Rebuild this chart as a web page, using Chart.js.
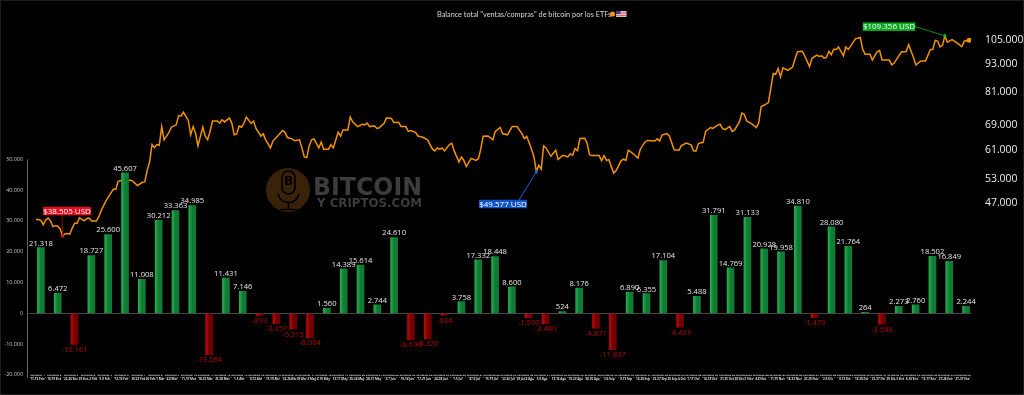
<!DOCTYPE html>
<html>
<head>
<meta charset="utf-8">
<style>
  html, body { margin: 0; padding: 0; background: #000; }
  canvas { display: block; }
</style>
<script src="https://cdn.jsdelivr.net/npm/chart.js@4"></script>
</head>
<body>
<canvas id="chart" width="1024" height="395"></canvas>
<script>
const titleText = 'Balance total "ventas/compras" de bitcoin por los ETFs';

const flows = [
  21318, 6472, -10161, 18727, 25600, 45607, 11008, 30212, 33363, 34985,
  -13564, 11431, 7146, -893, -3357, -5215, -8004, 1560, 14389, 15614,
  2744, 24610, -8690, -8320, -634, 3758, 17332, 18448, 8600, -1500,
  -3400, 524, 8176, -4871, -11837, 6890, 6355, 17104, -4493, 5488,
  31791, 14769, 31133, 20928, 19958, 34810, -1479, 28080, 21764, 264,
  -3588, 2273, 2760, 18502, 16849, 2244
];

const weekDates = [
  '11-12 Ene', '16-19 Ene', '22-26 Ene', '29 Ene-2 Feb', '5-9 Feb', '12-16 Feb', '20-23 Feb', '26 Feb-1 Mar',
  '4-8 Mar', '11-15 Mar', '18-22 Mar', '25-28 Mar', '1-5 Abr', '8-12 Abr', '15-19 Abr', '22-26 Abr',
  '29 Abr-3 May', '6-10 May', '13-17 May', '20-24 May', '28-31 May', '3-7 Jun', '10-14 Jun', '17-21 Jun',
  '24-28 Jun', '1-5 Jul', '8-12 Jul', '15-19 Jul', '22-26 Jul', '29 Jul-2 Ago', '5-9 Ago', '12-16 Ago',
  '19-23 Ago', '26-30 Ago', '3-6 Sep', '9-13 Sep', '16-20 Sep', '23-27 Sep', '30 Sep-4 Oct', '7-11 Oct',
  '14-18 Oct', '21-25 Oct', '28 Oct-1 Nov', '4-8 Nov', '11-15 Nov', '18-22 Nov', '25-29 Nov', '2-6 Dic',
  '9-13 Dic', '16-20 Dic', '23-27 Dic', '30 Dic-3 Ene', '6-10 Ene', '13-17 Ene', '21-24 Ene', '27-31 Ene'
];

// days since the first ETF session, paired with priceValues
const priceDays = [
  0, 1, 2, 3, 4, 5, 6, 7, 8, 9,
  10, 11, 12, 13, 14, 15, 16, 17, 18, 19,
  20, 21, 22, 23, 25, 26, 27, 29, 30, 32,
  33, 34, 35, 38, 39, 40, 42, 44, 45, 46,
  47, 48, 49, 50, 51, 52, 53, 55, 56, 58,
  59, 60, 61, 63, 64, 65, 66, 67, 69, 70,
  71, 72, 73, 75, 76, 77, 78, 80, 81, 82,
  83, 84, 85, 86, 87, 89, 90, 91, 93, 94,
  95, 97, 98, 99, 100, 102, 103, 104, 106, 107,
  109, 110, 111, 112, 113, 114, 115, 116, 117, 118,
  119, 121, 122, 123, 125, 126, 127, 129, 130, 131,
  133, 135, 136, 137, 138, 140, 141, 142, 144, 145,
  147, 148, 150, 151, 153, 154, 155, 157, 158, 160,
  162, 164, 165, 166, 167, 168, 169, 171, 172, 173,
  175, 176, 177, 178, 180, 182, 183, 184, 185, 187,
  189, 190, 192, 193, 195, 197, 199, 201, 202, 203,
  205, 206, 207, 208, 209, 210, 211, 213, 215, 216,
  218, 220, 221, 222, 223, 224, 225, 227, 228, 229,
  230, 233, 234, 235, 236, 237, 238, 239, 240, 242,
  243, 244, 245, 247, 249, 250, 252, 253, 256, 257,
  258, 259, 261, 262, 264, 266, 267, 269, 271, 272,
  273, 274, 276, 277, 279, 280, 282, 283, 284, 285,
  287, 288, 289, 291, 292, 293, 294, 296, 298, 299,
  300, 302, 303, 305, 306, 307, 308, 309, 311, 313,
  314, 315, 317, 318, 320, 321, 323, 324, 325, 326,
  327, 328, 329, 330, 331, 332, 334, 335, 336, 337,
  339, 341, 342, 343, 345, 346, 348, 349, 350, 353,
  354, 355, 358, 360, 361, 363, 364, 366, 368, 370,
  371, 372, 373, 374, 375, 376, 377, 379, 381, 383,
  384, 386
];

const priceValues = [
  43400, 43400, 43200, 42300, 43300, 43700, 43100, 41900, 42100, 42000,
  41400, 40000, 40400, 40500, 40400, 41600, 42600, 42600, 43800, 43400,
  43100, 43600, 43700, 43100, 43100, 44000, 45400, 47600, 48500, 50400,
  50300, 52400, 52500, 52500, 52700, 52400, 51300, 52100, 52200, 55300,
  57600, 62700, 61800, 62700, 62500, 68500, 64200, 66600, 68300, 69100,
  72300, 72100, 73500, 70600, 65800, 68500, 66300, 62300, 68300, 65400,
  64200, 66900, 70400, 70400, 69700, 70800, 70100, 71500, 69700, 65800,
  66100, 68700, 68300, 69600, 71800, 69600, 70400, 67900, 65400, 66100,
  64200, 61700, 63800, 64600, 65400, 67200, 66600, 64900, 64500, 63900,
  64200, 61700, 59000, 58800, 62300, 64200, 64500, 63100, 61700, 63500,
  61300, 61300, 62700, 61700, 66600, 65400, 67400, 67400, 71800, 70100,
  68500, 69300, 69100, 69700, 68500, 68800, 67900, 68100, 69600, 71500,
  71300, 69900, 70000, 68500, 68500, 66900, 67200, 66600, 65400, 65000,
  64200, 61300, 60800, 61700, 61300, 61700, 60800, 62700, 63100, 60800,
  57600, 59000, 58000, 56300, 58600, 58000, 58500, 61300, 65300, 65400,
  64200, 66900, 68200, 66200, 65800, 68500, 68500, 66200, 64600, 65300,
  61300, 59000, 54900, 56600, 55600, 62300, 61700, 59200, 61000, 58300,
  59500, 59000, 59900, 59500, 61500, 60800, 64600, 64700, 63100, 59600,
  59400, 59400, 57900, 59400, 58000, 58300, 56200, 54500, 55200, 57900,
  58400, 58000, 61000, 60000, 58700, 61300, 63600, 64000, 63800, 64500,
  63800, 65700, 66200, 65400, 61100, 61000, 62400, 63200, 62600, 60800,
  60700, 63000, 63400, 66900, 68200, 67900, 69000, 69300, 67900, 67500,
  68500, 66900, 67400, 70100, 73200, 72800, 70400, 69500, 68200, 69900,
  75600, 76500, 77100, 88900, 88600, 91100, 87400, 91400, 90300, 91800,
  95500, 99000, 99200, 97000, 92000, 95800, 97300, 96700, 97000, 95900,
  96200, 99200, 97500, 100200, 100100, 101300, 97000, 101300, 100100, 101700,
  105400, 106200, 100100, 97800, 97800, 95000, 99000, 99500, 95000, 95000,
  92800, 93600, 98800, 99100, 102500, 96200, 92700, 94600, 94600, 100100,
  100100, 104600, 104300, 101300, 102100, 107000, 103700, 105000, 103400, 101500,
  104200, 104700
];

const flowTicks = [-20000, -10000, 0, 10000, 20000, 30000, 40000, 50000];
const priceTicks = [47000, 53000, 61000, 69000, 81000, 93000, 105000];

const noteTexts = ['$38.505 USD', '$49.577 USD', '$109.356 USD'];
const noteDays = [11, 207, 376];

// box position and colours of each price callout
const noteStyles = [
  { cx: 67, cy: 211, w: 48, h: 8.5, fromX: 62, fromY: 215, box: '#e30f1f', line: '#8f0808', dot: '#e01818' },
  { cx: 503, cy: 204, w: 48, h: 8.5, fromX: 519, fromY: 200, box: '#0f52c4', line: '#1a5fd0', dot: '#1a5fd0' },
  { cx: 889, cy: 26.7, w: 52.5, h: 8.5, fromX: 915, fromY: 26.5, box: '#09a81f', line: '#0a8c1e', dot: '#0fb52a' }
];

const dotted = v => String(Math.abs(v)).replace(/\B(?=(\d{3})+$)/g, '.');
const withSign = v => (v < 0 ? '-' : '') + dotted(v);

function barFill(c) {
  const chart = c.chart;
  if (!chart.chartArea || c.dataIndex === undefined) return '#1f9e46';
  const x = chart.scales.x.getPixelForValue(c.dataIndex);
  const g = chart.ctx.createLinearGradient(x - 3.5, 0, x + 3.5, 0);
  if (flows[c.dataIndex] < 0) {
    g.addColorStop(0, '#d80404');
    g.addColorStop(0.6, '#b80404');
    g.addColorStop(1, '#6e0202');
  } else {
    g.addColorStop(0, '#1f9c45');
    g.addColorStop(0.5, '#24b04e');
    g.addColorStop(1, '#117a34');
  }
  return g;
}

const backdrop = {
  id: 'backdrop',
  beforeDraw(chart) {
    const ctx = chart.ctx;
    ctx.save();
    ctx.fillStyle = '#000';
    ctx.fillRect(0, 0, chart.width, chart.height);
    ctx.strokeStyle = '#1e1e1e';
    ctx.strokeRect(0.5, 0.5, chart.width - 1, chart.height - 1);

    // watermark
    ctx.fillStyle = '#3a2109';
    ctx.beginPath();
    ctx.arc(288, 190, 22, 0, Math.PI * 2);
    ctx.fill();
    ctx.strokeStyle = '#000';
    ctx.lineWidth = 1.6;
    ctx.beginPath();
    ctx.roundRect(282, 171, 13, 23, 6.5);
    ctx.stroke();
    ctx.beginPath();
    ctx.arc(288.5, 192, 10.5, 0.05 * Math.PI, 0.95 * Math.PI);
    ctx.moveTo(288.5, 202.5);
    ctx.lineTo(288.5, 209);
    ctx.moveTo(280, 209.5);
    ctx.lineTo(297, 209.5);
    ctx.stroke();
    ctx.fillStyle = '#000';
    ctx.font = 'bold 12px "DejaVu Sans"';
    ctx.textAlign = 'center';
    ctx.textBaseline = 'middle';
    ctx.fillText('B', 288.5, 182);
    ctx.fillStyle = '#3c3c3c';
    ctx.textAlign = 'left';
    ctx.textBaseline = 'alphabetic';
    ctx.font = 'bold 24.5px "DejaVu Sans"';
    ctx.fillText('BITCOIN', 313, 195, 109);
    ctx.font = 'bold 13px "DejaVu Sans"';
    ctx.fillText('Y CRIPTOS.COM', 317, 207, 105);

    // left axis rule and dotted base line
    const y = chart.scales.y;
    ctx.strokeStyle = '#6a6a6a';
    ctx.lineWidth = 1;
    ctx.beginPath();
    ctx.moveTo(27.5, y.getPixelForValue(50000));
    ctx.lineTo(27.5, 377);
    ctx.stroke();
    ctx.strokeStyle = '#555';
    ctx.setLineDash([1, 2]);
    ctx.beginPath();
    ctx.moveTo(27, 377.5);
    ctx.lineTo(970, 377.5);
    ctx.stroke();
    ctx.restore();
  }
};

const overlays = {
  id: 'overlays',
  afterDatasetsDraw(chart) {
    const ctx = chart.ctx;
    ctx.save();

    // title with coin and flag
    ctx.fillStyle = '#d8d8d8';
    ctx.font = '7.3px Lato';
    ctx.textAlign = 'left';
    ctx.textBaseline = 'middle';
    ctx.fillText(titleText, 437, 14.5);
    ctx.fillStyle = '#f7931a';
    ctx.beginPath();
    ctx.arc(612.5, 14, 2.6, 0, Math.PI * 2);
    ctx.fill();
    ctx.fillStyle = '#e8b8c4';
    ctx.fillRect(616, 11, 10.5, 6);
    ctx.fillStyle = '#d0607a';
    ctx.fillRect(616, 12.5, 10.5, 1);
    ctx.fillRect(616, 15, 10.5, 1);
    ctx.fillStyle = '#30408a';
    ctx.fillRect(616, 11, 4.5, 3);

    // bar value labels
    ctx.font = '7.6px "Open Sans"';
    ctx.textAlign = 'center';
    chart.getDatasetMeta(1).data.forEach((bar, i) => {
      const v = flows[i];
      ctx.fillStyle = v < 0 ? '#b40808' : '#e6e6e6';
      ctx.textBaseline = v < 0 ? 'top' : 'bottom';
      ctx.fillText(withSign(v), bar.x, v < 0 ? bar.y + 1.5 : bar.y - 0.5);
    });

    // price callouts
    const xd = chart.scales.xDays;
    const yp = chart.scales.yPrice;
    noteTexts.forEach((text, i) => {
      const s = noteStyles[i];
      const day = noteDays[i];
      const px = xd.getPixelForValue(day);
      const py = yp.getPixelForValue(priceValues[priceDays.indexOf(day)]);
      ctx.strokeStyle = s.line;
      ctx.lineWidth = 1;
      ctx.beginPath();
      ctx.moveTo(s.fromX, s.fromY);
      ctx.lineTo(px, py);
      ctx.stroke();
      ctx.fillStyle = s.dot;
      ctx.beginPath();
      ctx.arc(px, py, 1.6, 0, Math.PI * 2);
      ctx.fill();
      ctx.fillStyle = s.box;
      ctx.fillRect(s.cx - s.w / 2, s.cy - s.h / 2, s.w, s.h);
      ctx.fillStyle = '#fff';
      ctx.font = '8px "Open Sans"';
      ctx.textBaseline = 'middle';
      ctx.fillText(text, s.cx, s.cy + 0.3);
    });
    ctx.restore();
  }
};

new Chart(document.getElementById('chart').getContext('2d'), {
  data: {
    labels: flows.map((_, i) => ['Semana ' + (i + 1), weekDates[i]]),
    datasets: [
      {
        type: 'line',
        label: 'Precio',
        data: priceDays.map((d, i) => ({ x: d, y: priceValues[i] })),
        xAxisID: 'xDays',
        yAxisID: 'yPrice',
        borderColor: '#f39200',
        borderWidth: 1.5,
        pointRadius: c => (c.dataIndex === priceDays.length - 1 ? 2.5 : 0),
        pointBackgroundColor: '#f39200',
        pointBorderWidth: 0,
        tension: 0,
        order: 2
      },
      {
        type: 'bar',
        label: 'Balance',
        data: flows,
        xAxisID: 'x',
        yAxisID: 'y',
        backgroundColor: barFill,
        barThickness: 7,
        order: 1
      }
    ]
  },
  options: {
    responsive: false,
    animation: false,
    layout: { padding: { top: 24 } },
    plugins: { legend: { display: false }, tooltip: { enabled: false } },
    scales: {
      x: {
        grid: { display: false, drawTicks: false, tickLength: 0 },
        border: { display: false },
        afterFit: s => { s.height = 13; },
        ticks: {
          autoSkip: false,
          maxRotation: 0,
          minRotation: 0,
          padding: -1,
          color: '#d8d8d8',
          font: { family: 'Open Sans', size: 3, weight: 'bold', lineHeight: 1.25 }
        }
      },
      xDays: {
        type: 'linear',
        display: false,
        min: -2.9,
        max: 386.8,
        grid: { drawTicks: false },
        afterFit: s => { s.height = 0; }
      },
      y: {
        position: 'left',
        min: -20000,
        max: 94000,
        afterFit: s => { s.width = 29; },
        afterBuildTicks: s => { s.ticks = flowTicks.map(value => ({ value })); },
        border: { display: false },
        grid: {
          drawTicks: false,
          color: c => (c.tick && c.tick.value === 0 ? '#4a4a4a' : 'transparent')
        },
        ticks: {
          padding: 6,
          color: '#c4c4c4',
          font: { family: 'Open Sans', size: 5.4 },
          callback: withSign
        }
      },
      yPrice: {
        type: 'logarithmic',
        position: 'right',
        min: 20234,
        max: 113410,
        afterFit: s => { s.width = 53; },
        afterBuildTicks: s => { s.ticks = priceTicks.map(value => ({ value })); },
        border: { display: false },
        grid: { display: false, drawTicks: false },
        ticks: {
          padding: 14,
          color: '#ececec',
          font: { family: 'Open Sans', size: 10.4 },
          callback: dotted
        }
      }
    }
  },
  plugins: [backdrop, overlays]
});
</script>
</body>
</html>
